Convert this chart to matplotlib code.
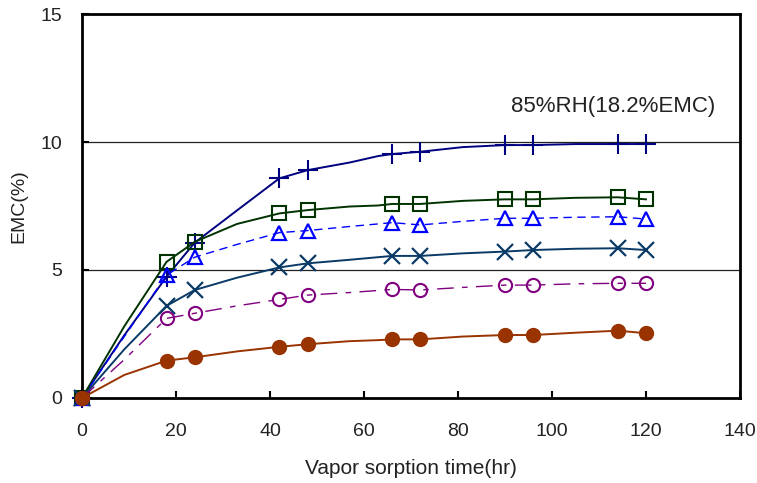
import matplotlib
matplotlib.use('Agg')
import matplotlib.pyplot as plt

plt.rcParams['font.family'] = ['Liberation Sans', 'DejaVu Sans']

# sorption time (hr); markers only at the weighed points
hours = [0, 9, 18, 24, 33, 42, 48, 57, 63, 66, 72, 81, 90, 96, 105, 114, 120]
marker_hours = [0, 18, 24, 42, 48, 66, 72, 90, 96, 114, 120]

# EMC (%) per condition
emc_plus = [0, 2.45, 4.74, 6.07, 7.33, 8.58, 8.9, 9.2, 9.45, 9.53, 9.62, 9.8, 9.88, 9.88, 9.92, 9.92, 9.92]
emc_square = [0, 2.8, 5.32, 6.1, 6.8, 7.21, 7.34, 7.48, 7.52, 7.58, 7.58, 7.7, 7.76, 7.76, 7.82, 7.84, 7.76]
emc_triangle = [0, 2.4, 4.8, 5.5, 6.0, 6.46, 6.54, 6.7, 6.8, 6.85, 6.76, 6.9, 7.02, 7.02, 7.06, 7.08, 6.99]
emc_cross = [0, 1.9, 3.6, 4.22, 4.7, 5.1, 5.26, 5.4, 5.5, 5.55, 5.55, 5.65, 5.72, 5.78, 5.83, 5.85, 5.78]
emc_circle = [0, 1.5, 3.11, 3.31, 3.6, 3.85, 4.02, 4.12, 4.2, 4.24, 4.22, 4.32, 4.41, 4.41, 4.46, 4.48, 4.48]
emc_dot = [0, 0.9, 1.46, 1.59, 1.82, 2.0, 2.1, 2.22, 2.26, 2.29, 2.29, 2.4, 2.46, 2.46, 2.55, 2.63, 2.53]

annotation = "85%RH(18.2%EMC)"

mark_idx = [hours.index(h) for h in marker_hours]

fig = plt.figure(figsize=(7.57, 4.83), dpi=100)
ax = fig.add_axes([0.1083, 0.176, 0.8692, 0.795])

ax.plot(hours, emc_plus, color='#000080', lw=1.4, marker='+', ms=14, mew=1.5,
        markevery=mark_idx, clip_on=False)
ax.plot(hours, emc_square, color='#003300', lw=1.4, marker='s', ms=9.5, mew=1.5,
        mfc='none', markevery=mark_idx, clip_on=False)
ax.plot(hours, emc_triangle, color='#0000ff', lw=1.0, ls=(0, (6, 4)), marker='^', ms=10,
        mew=1.6, mfc='none', markevery=mark_idx, clip_on=False)
ax.plot(hours, emc_cross, color='#0a3a66', lw=1.4, marker='x', ms=11, mew=1.6,
        markevery=mark_idx, clip_on=False)
ax.plot(hours, emc_circle, color='#800080', lw=1.0, ls=(0, (12, 6, 4, 6)), marker='o', ms=9.5,
        mew=1.5, mfc='none', markevery=mark_idx, clip_on=False)
ax.plot(hours, emc_dot, color='#993300', lw=1.4, marker='o', ms=10,
        markevery=mark_idx, clip_on=False, zorder=5)

for y in [5, 10]:
    ax.axhline(y, color='#222222', lw=0.9, zorder=0)

ax.set_xlim(0, 140)
ax.set_ylim(0, 15)
ax.set_xticks(range(0, 141, 20))
ax.set_yticks([0, 5, 10, 15])
ax.tick_params(axis='x', direction='in', length=5, width=1.5, pad=18, labelsize=14,
               labelcolor='#222222')
ax.tick_params(axis='y', direction='in', length=5, width=1.5, pad=14, labelsize=14,
               labelcolor='#222222')
for s in ax.spines.values():
    s.set_linewidth(2)

ax.text(113, 11.4, annotation, ha='center', va='center', fontsize=16, color='#222222')
ax.set_xlabel("Vapor sorption time(hr)", fontsize=15, color='#222222', labelpad=14)
ax.set_ylabel("EMC(%)", fontsize=14, color='#222222', labelpad=10)

fig.savefig('out.png', dpi=100)
